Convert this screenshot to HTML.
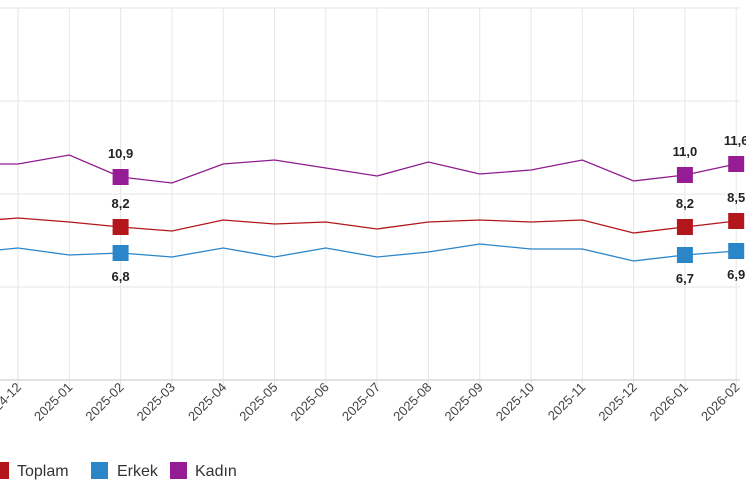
<!DOCTYPE html>
<html><head><meta charset="utf-8"><style>
html,body{margin:0;padding:0;background:#fff;}
svg{display:block;font-family:"Liberation Sans",sans-serif;}
</style></head><body>
<svg width="746" height="497" viewBox="0 0 746 497" xmlns="http://www.w3.org/2000/svg">
<g stroke="#e6e6e6" stroke-width="1">
<line x1="0" y1="8" x2="740" y2="8"/><line x1="0" y1="101" x2="740" y2="101"/><line x1="0" y1="194" x2="740" y2="194"/><line x1="0" y1="287" x2="740" y2="287"/>
<line x1="18" y1="8" x2="18" y2="391"/><line x1="69.3" y1="8" x2="69.3" y2="391"/><line x1="120.6" y1="8" x2="120.6" y2="391"/><line x1="171.9" y1="8" x2="171.9" y2="391"/><line x1="223.2" y1="8" x2="223.2" y2="391"/><line x1="274.5" y1="8" x2="274.5" y2="391"/><line x1="325.8" y1="8" x2="325.8" y2="391"/><line x1="377.1" y1="8" x2="377.1" y2="391"/><line x1="428.4" y1="8" x2="428.4" y2="391"/><line x1="479.7" y1="8" x2="479.7" y2="391"/><line x1="531" y1="8" x2="531" y2="391"/><line x1="582.3" y1="8" x2="582.3" y2="391"/><line x1="633.6" y1="8" x2="633.6" y2="391"/><line x1="684.9" y1="8" x2="684.9" y2="391"/><line x1="736.2" y1="8" x2="736.2" y2="391"/>
</g>
<line x1="0" y1="380" x2="740" y2="380" stroke="#d8d8d8" stroke-width="1.5"/>
<polyline fill="none" stroke="#8e1b8e" stroke-width="1.3" points="-33,164 18,164 69.3,155 120.6,177 171.9,183 223.2,164 274.5,160 325.8,168 377.1,176 428.4,162 479.7,174 531,170 582.3,160 633.6,181 684.9,175 736.2,164"/>
<polyline fill="none" stroke="#b3161b" stroke-width="1.3" points="-33,222 18,218 69.3,222 120.6,227 171.9,231 223.2,220 274.5,224 325.8,222 377.1,229 428.4,222 479.7,220 531,222 582.3,220 633.6,233 684.9,227 736.2,221"/>
<polyline fill="none" stroke="#2a86c9" stroke-width="1.3" points="-33,253 18,248 69.3,255 120.6,253 171.9,257 223.2,248 274.5,257 325.8,248 377.1,257 428.4,252 479.7,244 531,249 582.3,249 633.6,261 684.9,255 736.2,251"/>
<g>
<rect x="112.6" y="169" width="16" height="16" fill="#951c95"/><rect x="676.9" y="167" width="16" height="16" fill="#951c95"/><rect x="728.2" y="156" width="16" height="16" fill="#951c95"/>
<rect x="112.6" y="219" width="16" height="16" fill="#b3161b"/><rect x="676.9" y="219" width="16" height="16" fill="#b3161b"/><rect x="728.2" y="213" width="16" height="16" fill="#b3161b"/>
<rect x="112.6" y="245" width="16" height="16" fill="#2a86c9"/><rect x="676.9" y="247" width="16" height="16" fill="#2a86c9"/><rect x="728.2" y="243" width="16" height="16" fill="#2a86c9"/>
</g>
<g font-size="13" font-weight="bold" fill="#222" text-anchor="middle">
<text x="120.6" y="158">10,9</text><text x="684.9" y="156">11,0</text><text x="736.2" y="145">11,6</text>
<text x="120.6" y="208">8,2</text><text x="684.9" y="208">8,2</text><text x="736.2" y="202">8,5</text>
<text x="120.6" y="281">6,8</text><text x="684.9" y="283">6,7</text><text x="736.2" y="279">6,9</text>
</g>
<g font-size="13" fill="#444" text-anchor="end">
<text transform="translate(22,388) rotate(-45)">2024-12</text>
<text transform="translate(73.3,388) rotate(-45)">2025-01</text>
<text transform="translate(124.6,388) rotate(-45)">2025-02</text>
<text transform="translate(175.9,388) rotate(-45)">2025-03</text>
<text transform="translate(227.2,388) rotate(-45)">2025-04</text>
<text transform="translate(278.5,388) rotate(-45)">2025-05</text>
<text transform="translate(329.8,388) rotate(-45)">2025-06</text>
<text transform="translate(381.1,388) rotate(-45)">2025-07</text>
<text transform="translate(432.4,388) rotate(-45)">2025-08</text>
<text transform="translate(483.7,388) rotate(-45)">2025-09</text>
<text transform="translate(535,388) rotate(-45)">2025-10</text>
<text transform="translate(586.3,388) rotate(-45)">2025-11</text>
<text transform="translate(637.6,388) rotate(-45)">2025-12</text>
<text transform="translate(688.9,388) rotate(-45)">2026-01</text>
<text transform="translate(740.2,388) rotate(-45)">2026-02</text>
</g>
<g font-size="16" fill="#333">
<rect x="-8" y="462" width="17" height="17" fill="#b3161b"/><text x="17" y="476">Toplam</text>
<rect x="91" y="462" width="17" height="17" fill="#2a86c9"/><text x="117" y="476">Erkek</text>
<rect x="170" y="462" width="17" height="17" fill="#951c95"/><text x="195" y="476">Kadın</text>
</g>
</svg>
</body></html>
